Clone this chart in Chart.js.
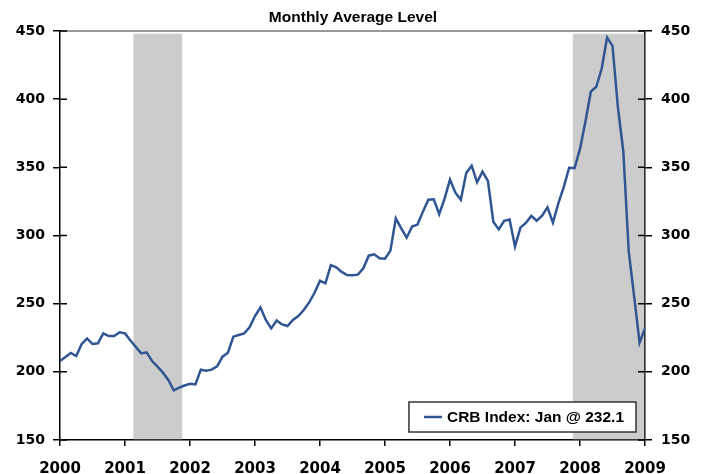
<!DOCTYPE html>
<html><head><meta charset="utf-8">
<script src="https://cdn.jsdelivr.net/npm/chart.js@4.4.1/dist/chart.umd.min.js"></script>
<style>html,body{margin:0;padding:0;background:#fff}#wrap{width:706px;height:474px}</style>
</head><body><div id="wrap"><canvas id="c" width="706" height="474"></canvas></div>
<script>
// ---- Data ----
const startYear = 2000;
const crb2000 = [208, 210.8, 213.8, 211.6, 220.4, 224.5, 220.4, 220.9, 228.2, 226.2, 226.2, 229];
const crb2001 = [228.2, 223, 218.2, 213.5, 214.3, 207.9, 203.8, 199.4, 194, 186.4, 188.4, 190];
const crb2002 = [191.3, 190.8, 201.6, 200.8, 201.6, 204, 211.1, 214, 225.8, 227, 228.2, 232.6];
const crb2003 = [240.9, 247.3, 238, 231.9, 237.7, 234.8, 233.6, 238, 240.9, 245.3, 250.9, 258];
const crb2004 = [266.8, 264.9, 278.3, 276.6, 273.3, 271, 270.8, 271.3, 276, 285.2, 286.2, 283.3];
const crb2005 = [283, 288.9, 312.6, 305.3, 298.4, 306.6, 308, 317.5, 326.3, 326.6, 315.6, 327];
const crb2006 = [341, 331.4, 326.2, 345.8, 351.2, 339, 346.8, 340, 310.1, 304.5, 310.8, 311.7];
const crb2007 = [292, 305.8, 309.2, 314.4, 310.8, 314.5, 320.6, 309.4, 323.6, 335.5, 349.7, 349.5];
const crb2008 = [363.5, 383.5, 405.5, 409.1, 422.3, 445.2, 439.1, 394, 361.5, 288.1, 255.1, 221.4];
const crb2009 = [232.1];
const yearTicks = [2000, 2001, 2002, 2003, 2004, 2005, 2006, 2007, 2008, 2009];
const yTickValues = [150, 200, 250, 300, 350, 400, 450];
const recessionStarts = [2001.13, 2007.89];
const recessionEnds = [2001.88, 2009.0];
const recessionTop = 448;
const chartTitle = 'Monthly Average Level';
const seriesLabel = 'CRB Index: Jan @ 232.1';

const crbMonthly = [].concat(crb2000, crb2001, crb2002, crb2003, crb2004, crb2005, crb2006, crb2007, crb2008, crb2009);
const points = crbMonthly.map((v, i) => ({ x: startYear + i / 12, y: v }));

const TICK_FONT = 'DejaVu Sans';
const TEXT_FONT = 'Liberation Sans';
const LINE_COLOR = '#2f5593';

const decor = {
  id: 'decor',
  beforeDatasetsDraw(chart) {
    const { ctx, chartArea: a, scales } = chart;
    const x = scales.x, y = scales.y;
    ctx.save();
    ctx.fillStyle = '#cccccc';
    for (let i = 0; i < recessionStarts.length; i++) {
      const x0 = Math.max(a.left, x.getPixelForValue(recessionStarts[i]));
      const x1 = Math.min(a.right - 0.75, x.getPixelForValue(recessionEnds[i]));
      const yt = y.getPixelForValue(recessionTop);
      ctx.fillRect(x0, yt, x1 - x0, a.bottom - 0.75 - yt);
    }
    ctx.strokeStyle = '#777777';
    ctx.lineWidth = 1.5;
    ctx.beginPath();
    ctx.moveTo(a.left, a.top);
    ctx.lineTo(a.right, a.top);
    ctx.stroke();
    ctx.restore();
  },
  afterDraw(chart) {
    const { ctx, chartArea: a, scales } = chart;
    const y = scales.y;
    ctx.save();
    ctx.strokeStyle = '#000';
    ctx.lineWidth = 1.5;
    yTickValues.forEach(v => {
      const py = y.getPixelForValue(v);
      ctx.beginPath();
      ctx.moveTo(a.left, py); ctx.lineTo(a.left + 7, py);
      ctx.moveTo(a.right - 7, py); ctx.lineTo(a.right, py);
      ctx.stroke();
    });
    // legend box
    ctx.font = 'bold 15.5px "' + TEXT_FONT + '"';
    const tw = ctx.measureText(seriesLabel).width;
    const w = 15 + 18 + 5 + tw + 12;
    const h = 30;
    const right = a.right - 9, bottom = a.bottom - 8;
    const left = right - w, top = bottom - h;
    ctx.fillStyle = '#ffffff';
    ctx.fillRect(left, top, w, h);
    ctx.strokeStyle = '#333333';
    ctx.lineWidth = 1.5;
    ctx.strokeRect(left, top, w, h);
    ctx.strokeStyle = LINE_COLOR;
    ctx.lineWidth = 2.5;
    ctx.beginPath();
    ctx.moveTo(left + 15, top + h / 2);
    ctx.lineTo(left + 33, top + h / 2);
    ctx.stroke();
    ctx.fillStyle = '#000';
    ctx.textBaseline = 'middle';
    ctx.textAlign = 'left';
    ctx.fillText(seriesLabel, left + 38, top + h / 2 + 1);
    ctx.restore();
  }
};

const yTickFont = { family: TICK_FONT, size: 14, weight: 'bold' };
const xTickFont = { family: TICK_FONT, size: 15, weight: 'bold' };

new Chart(document.getElementById('c'), {
  type: 'line',
  data: {
    datasets: [{
      label: seriesLabel,
      data: points,
      borderColor: LINE_COLOR,
      borderWidth: 2.5,
      pointRadius: 0,
      tension: 0,
      fill: false,
      yAxisID: 'y'
    }]
  },
  options: {
    responsive: false,
    devicePixelRatio: 1,
    animation: false,
    layout: { padding: { left: 0, right: 0, top: 0, bottom: 0 } },
    plugins: {
      legend: { display: false },
      tooltip: { enabled: false },
      title: {
        display: true,
        text: chartTitle,
        color: '#000',
        font: { family: TEXT_FONT, size: 15.5, weight: 'bold', lineHeight: 1.2 },
        padding: { top: 8, bottom: 4.4 }
      }
    },
    scales: {
      x: {
        type: 'linear',
        min: 2000, max: 2009,
        afterBuildTicks(s) { s.ticks = yearTicks.map(v => ({ value: v })); },
        afterFit(s) { s.height = 34; },
        ticks: { color: '#000', font: xTickFont, maxRotation: 0, autoSkip: false, padding: 14, callback: v => String(v) },
        grid: { drawOnChartArea: false, drawTicks: true, tickLength: 6, color: '#000', lineWidth: 1.5 },
        border: { color: '#000', width: 1.5 }
      },
      y: {
        position: 'left',
        min: 150, max: 450,
        afterBuildTicks(s) { s.ticks = yTickValues.map(v => ({ value: v })); },
        afterFit(s) { s.width = 60; },
        ticks: { color: '#000', font: yTickFont, padding: 8 },
        grid: { drawOnChartArea: false, tickLength: 7, color: '#000', lineWidth: 1.5 },
        border: { color: '#000', width: 1.5 }
      },
      y2: {
        position: 'right',
        min: 150, max: 450,
        afterBuildTicks(s) { s.ticks = yTickValues.map(v => ({ value: v })); },
        afterFit(s) { s.width = 61; },
        ticks: { color: '#000', font: yTickFont, padding: 9 },
        grid: { drawOnChartArea: false, tickLength: 7, color: '#000', lineWidth: 1.5 },
        border: { color: '#000', width: 1.5 }
      }
    }
  },
  plugins: [decor]
});
</script></body></html>
